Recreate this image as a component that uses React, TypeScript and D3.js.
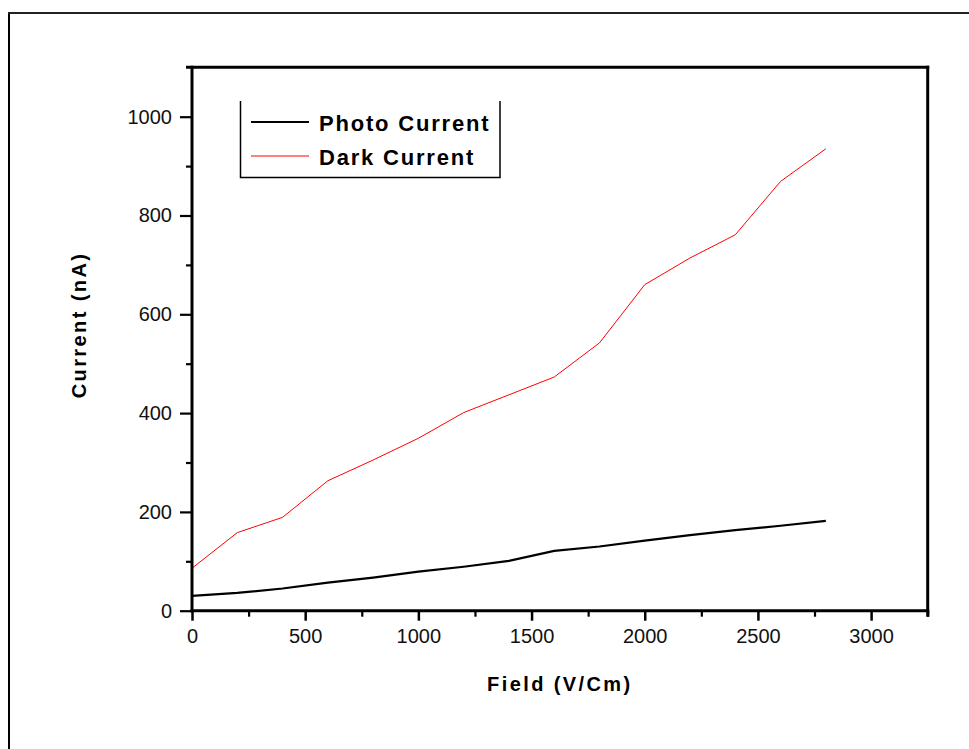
import { useEffect, useRef } from "react";
import * as d3 from "d3";

// field (V/Cm)
const fieldValues = [0, 200, 400, 600, 800, 1000, 1200, 1400, 1600, 1800, 2000, 2200, 2400, 2600, 2800];
// current (nA)
const photoCurrent = [30, 36, 45, 57, 67, 79, 89, 101, 121, 130, 142, 153, 163, 172, 182];
const darkCurrent = [86, 158, 189, 263, 305, 349, 401, 437, 473, 542, 660, 714, 761, 869, 935];

const xMajorTicks = [0, 500, 1000, 1500, 2000, 2500, 3000];
const xMinorTicks = [250, 750, 1250, 1750, 2250, 2750, 3250];
const yMajorTicks = [0, 200, 400, 600, 800, 1000];
const yMinorTicks = [100, 300, 500, 700, 900];

const legendItems = [
  { label: "Photo Current", color: "#000", width: 2.2, values: photoCurrent },
  { label: "Dark Current", color: "#ff0000", width: 1, values: darkCurrent },
];

const W = 969;
const H = 749;
const FONT = "'Liberation Sans', Arial, sans-serif";

function App() {
  const ref = useRef<SVGSVGElement>(null);

  useEffect(() => {
    const svg = d3.select(ref.current);
    svg.selectAll("*").remove();

    const left = 192, right = 927.7, top = 67.3, bottom = 610.7;

    const x = d3.scaleLinear().domain([0, 3250]).range([left, right]);
    const y = d3.scaleLinear().domain([0, 1100]).range([bottom, top]);
    const fmt = d3.format("d");

    // outer frame
    svg.append("line").attr("x1", 9).attr("x2", 9).attr("y1", 12).attr("y2", H)
      .attr("stroke", "#000").attr("stroke-width", 2);
    svg.append("line").attr("x1", 8).attr("x2", W).attr("y1", 13).attr("y2", 13)
      .attr("stroke", "#222").attr("stroke-width", 2.2);

    // data lines
    const lineGen = d3.line<number>()
      .x((_, i) => x(fieldValues[i]))
      .y(d => y(d));

    legendItems.forEach(item => {
      svg.append("path")
        .datum(item.values)
        .attr("d", lineGen)
        .attr("fill", "none")
        .attr("stroke", item.color)
        .attr("stroke-width", item.width);
    });

    // y axis
    const yAxis = svg.append("g").attr("transform", `translate(${left},0)`)
      .call(d3.axisLeft(y).tickValues(yMajorTicks).tickFormat(d => fmt(d as number)).tickSize(12).tickPadding(8).tickSizeOuter(0));
    yAxis.select(".domain").remove();
    yAxis.selectAll(".tick line").attr("stroke-width", 2.2);
    yAxis.selectAll("text").attr("font-family", FONT).attr("font-size", 20).attr("fill", "#111");

    const yMinor = svg.append("g").attr("transform", `translate(${left},0)`)
      .call(d3.axisLeft(y).tickValues(yMinorTicks).tickSize(6).tickFormat(() => "").tickSizeOuter(0));
    yMinor.select(".domain").remove();
    yMinor.selectAll(".tick line").attr("stroke-width", 2.2);

    // x axis
    const xAxis = svg.append("g").attr("transform", `translate(0,${bottom})`)
      .call(d3.axisBottom(x).tickValues(xMajorTicks).tickFormat(d => fmt(d as number)).tickSize(10).tickPadding(8).tickSizeOuter(0));
    xAxis.select(".domain").remove();
    xAxis.selectAll(".tick line").attr("stroke-width", 2.5);
    xAxis.selectAll("text").attr("font-family", FONT).attr("font-size", 20).attr("fill", "#111");

    const xMinor = svg.append("g").attr("transform", `translate(0,${bottom})`)
      .call(d3.axisBottom(x).tickValues(xMinorTicks).tickSize(6).tickFormat(() => "").tickSizeOuter(0));
    xMinor.select(".domain").remove();
    xMinor.selectAll(".tick line").attr("stroke-width", 2.2);

    // plot frame
    const frame = svg.append("g").attr("stroke", "#000").attr("stroke-width", 3);
    frame.append("line").attr("x1", left).attr("x2", left).attr("y1", top - 1.5).attr("y2", bottom + 1.5);
    frame.append("line").attr("x1", left - 6).attr("x2", right + 1.5).attr("y1", top).attr("y2", top);
    frame.append("line").attr("x1", right).attr("x2", right).attr("y1", top - 1.5).attr("y2", bottom + 6);
    frame.append("line").attr("x1", left - 1.5).attr("x2", right + 1.5).attr("y1", bottom).attr("y2", bottom);

    // axis titles
    svg.append("text")
      .attr("x", (left + right) / 2).attr("y", 691)
      .attr("text-anchor", "middle")
      .attr("font-family", FONT).attr("font-weight", "bold").attr("font-size", 20)
      .attr("letter-spacing", 2.4)
      .text("Field (V/Cm)");
    svg.append("text")
      .attr("transform", `translate(86,325) rotate(-90)`)
      .attr("text-anchor", "middle")
      .attr("font-family", FONT).attr("font-weight", "bold").attr("font-size", 20)
      .attr("letter-spacing", 2.4)
      .text("Current (nA)");

    // legend
    const lg = svg.append("g");
    lg.append("path")
      .attr("d", "M240.5,101 V177.5 H500 V101")
      .attr("fill", "none").attr("stroke", "#000").attr("stroke-width", 1.5);
    legendItems.forEach((item, i) => {
      const ly = 122 + i * 34;
      lg.append("line").attr("x1", 251).attr("x2", 309).attr("y1", ly).attr("y2", ly)
        .attr("stroke", item.color).attr("stroke-width", item.width);
      lg.append("text")
        .attr("x", 319).attr("y", ly + 8.7)
        .attr("font-family", FONT).attr("font-weight", "bold").attr("font-size", 22)
        .attr("letter-spacing", 1.8)
        .text(item.label);
    });
  }, []);

  return (
    <svg
      ref={ref}
      width={W}
      height={H}
      style={{ position: "absolute", left: 0, top: 0, background: "#fff" }}
    />
  );
}

export default App;
